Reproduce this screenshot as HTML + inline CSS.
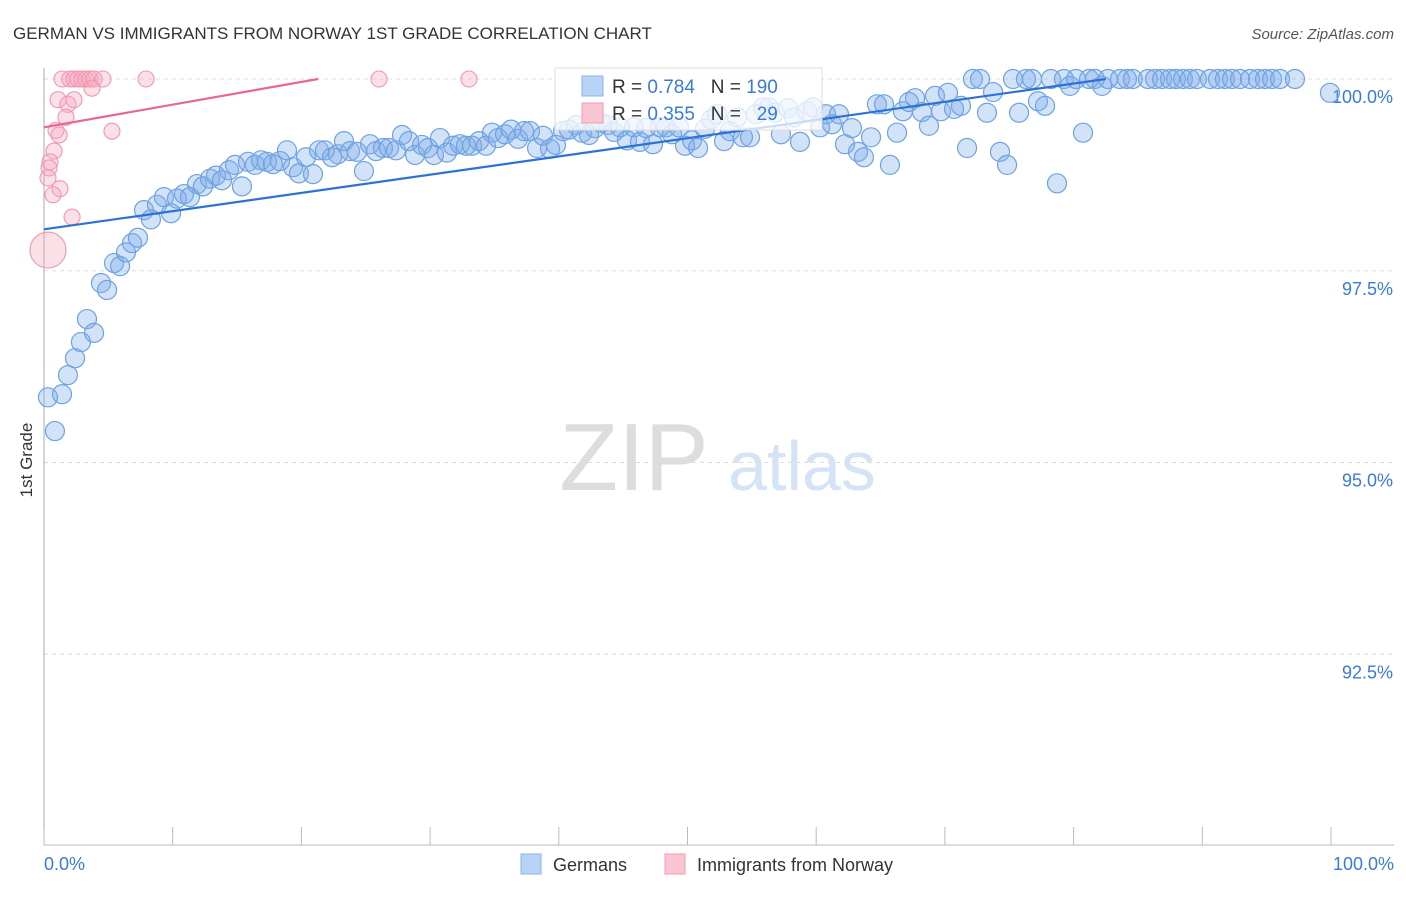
<!DOCTYPE html>
<html><head><meta charset="utf-8"><style>
body{margin:0;background:#fff;font-family:"Liberation Sans",sans-serif}
svg text{font-family:"Liberation Sans",sans-serif}
</style></head><body>
<svg id="chart" width="1406" height="892" xmlns="http://www.w3.org/2000/svg">
<text x="13" y="39" font-size="17" fill="#333">GERMAN VS IMMIGRANTS FROM NORWAY 1ST GRADE CORRELATION CHART</text>
<text x="1394" y="39" font-size="15" fill="#555" font-style="italic" text-anchor="end">Source: ZipAtlas.com</text>
<text x="32" y="460" font-size="17" fill="#333" transform="rotate(-90 32 460)" text-anchor="middle">1st Grade</text>
<g><text x="634" y="490" font-size="96" fill="#ddd" font-family="Liberation Serif" text-anchor="middle">ZIP</text><text x="802" y="490" font-size="70" fill="#d4e3f5" text-anchor="middle">atlas</text></g>
<g id="grid"></g><g id="axes"></g><g id="marks"></g>
<g>
<rect x="555" y="68" width="267" height="62" fill="#fff" fill-opacity="0.75" stroke="#ddd"/>
<rect x="582" y="76" width="21" height="20" fill="#b7d3f5" stroke="#8ab4ea"/>
<rect x="582" y="103" width="21" height="20" fill="#f9c5d3" stroke="#f19ab3"/>
<text x="612" y="93" font-size="19" fill="#333">R = <tspan fill="#3a7bd5">0.784</tspan>&#160;&#160;&#160;N = <tspan fill="#3a7bd5">190</tspan></text>
<text x="612" y="120" font-size="19" fill="#333">R = <tspan fill="#3a7bd5">0.355</tspan>&#160;&#160;&#160;N = &#160;&#160;<tspan fill="#3a7bd5">29</tspan></text>
</g>
<g>
<rect x="521" y="854" width="20" height="20" fill="#b7d3f5" stroke="#8ab4ea"/>
<text x="553" y="871" font-size="18" fill="#333">Germans</text>
<rect x="665" y="854" width="20" height="20" fill="#f9c5d3" stroke="#f19ab3"/>
<text x="697" y="871" font-size="18" fill="#333">Immigrants from Norway</text>
</g>
</svg>
<script>
const yTicks=[100,97.5,95,92.5];
const yTickLabels=["100.0%","97.5%","95.0%","92.5%"];
const xTicks=[0,10,20,30,40,50,60,70,80,90,100];
const xEndLabels=["0.0%","100.0%"];
const germanX=[0.31,0.85,1.40,1.86,2.41,2.87,3.34,3.89,4.43,4.90,5.44,5.91,6.37,6.84,7.30,7.77,8.31,8.78,9.32,9.87,10.33,10.88,11.34,11.89,12.35,12.90,13.36,13.83,14.37,14.84,15.38,15.85,16.39,16.86,17.33,17.79,18.34,18.88,19.35,19.81,20.36,20.90,21.37,21.83,22.38,22.84,23.31,23.78,24.32,24.86,25.33,25.80,26.34,26.81,27.35,27.82,28.36,28.83,29.37,29.84,30.30,30.77,31.31,31.78,32.32,32.79,33.26,33.80,34.34,34.81,35.28,35.82,36.29,36.83,37.30,37.76,38.31,38.77,39.32,39.78,40.33,40.79,41.34,41.80,42.35,42.81,43.28,43.82,44.29,44.76,45.30,45.84,46.31,46.78,47.32,47.86,48.33,48.80,49.34,49.81,50.35,50.82,51.36,51.83,52.29,52.84,53.30,53.85,54.31,54.86,55.32,55.87,56.33,56.80,57.26,57.81,58.28,58.74,59.29,59.75,60.30,60.76,61.23,61.77,62.24,62.78,63.25,63.71,64.26,64.72,65.27,65.73,66.28,66.74,67.21,67.68,68.22,68.76,69.23,69.70,70.24,70.71,71.25,71.72,72.18,72.73,73.27,73.74,74.28,74.83,75.29,75.76,76.30,76.77,77.23,77.78,78.24,78.71,79.25,79.72,80.19,80.73,81.20,81.66,82.21,82.67,83.6,84.15,84.6,85.78,86.33,86.87,87.49,87.96,88.5,89.04,89.59,90.6,91.22,91.76,92.31,92.93,93.71,94.33,94.87,95.42,96.04,97.2,99.92];
const germanY=[95.85,95.41,95.89,96.14,96.36,96.57,96.87,96.69,97.34,97.25,97.60,97.56,97.74,97.86,97.93,98.29,98.17,98.36,98.46,98.25,98.44,98.50,98.46,98.63,98.60,98.70,98.74,98.68,98.81,98.88,98.60,98.92,98.88,98.94,98.92,98.89,98.93,99.07,98.85,98.77,98.98,98.76,99.07,99.07,98.98,99.02,99.19,99.06,99.05,98.80,99.15,99.06,99.10,99.10,99.07,99.27,99.19,99.01,99.14,99.10,99.01,99.23,99.04,99.13,99.15,99.13,99.13,99.19,99.13,99.30,99.23,99.28,99.34,99.22,99.32,99.32,99.10,99.26,99.09,99.14,99.32,99.34,99.40,99.30,99.27,99.36,99.43,99.40,99.31,99.37,99.20,99.37,99.18,99.36,99.15,99.37,99.37,99.28,99.37,99.13,99.20,99.10,99.35,99.47,99.54,99.19,99.32,99.50,99.24,99.24,99.54,99.63,99.63,99.56,99.28,99.62,99.50,99.18,99.58,99.63,99.37,99.54,99.41,99.54,99.15,99.36,99.05,98.98,99.24,99.67,99.67,98.88,99.30,99.58,99.70,99.75,99.57,99.39,99.78,99.58,99.82,99.61,99.65,99.10,100,100,99.56,99.83,99.05,98.88,100,99.56,100,100,99.71,99.65,100,98.64,100,99.91,100,99.30,100,100,99.91,100,100,100,100,100,100,100,100,100,100,100,100,100,100,100,100,100,100,100,100,100,100,100,99.82];
const norwayX=[0.31,1.4,2.0,2.33,2.64,2.95,3.26,3.57,3.89,4.58,7.93,26.03,33.02,1.09,1.86,2.33,3.73,1.71,5.28,0.93,1.17,0.78,0.47,0.39,0.31,1.24,0.7,2.18];
const norwayY=[97.77,100,100,100,100,100,100,100,100,100,100,100,100,99.73,99.67,99.73,99.88,99.5,99.32,99.33,99.27,99.06,98.92,98.84,98.71,98.57,98.49,98.2];
const germanTrend=[0,98.04,82.5,100];
const norwayTrend=[0,99.37,21.3,100];
const X=v=>44+v*12.87, Y=v=>79+(100-v)*76.7;
const NS="http://www.w3.org/2000/svg";
function mk(t,a,p){const e=document.createElementNS(NS,t);for(const k in a)e.setAttribute(k,a[k]);p.appendChild(e);return e;}
const grid=document.getElementById('grid'),axes=document.getElementById('axes'),marks=document.getElementById('marks');
yTicks.forEach((t,i)=>{
 const l=mk('line',{x1:44,x2:1394,y1:Y(t),y2:Y(t),stroke:'#ddd','stroke-dasharray':'4 4'},grid);
 
 
 const tx=mk('text',{x:1393,y:Y(t)+24,'font-size':18,fill:'#3a7bd5','text-anchor':'end'},axes);
 tx.textContent=yTickLabels[i];
 
 
});
const ax=mk('line',{x1:44,x2:44,y1:68,y2:845,stroke:'#aaa'},axes);


const bx=mk('line',{x1:44,x2:1394,y1:845,y2:845,stroke:'#bbb'},axes);


xTicks.forEach(t=>{
 const l=mk('line',{x1:X(t),x2:X(t),y1:827,y2:845,stroke:'#bbb'},axes);
 
 
});
[[0,'start',44],[100,'end',1394]].forEach((d,i)=>{
 const tx=mk('text',{x:d[2],y:870,'font-size':18,fill:'#3a7bd5','text-anchor':d[1]},axes);
 tx.textContent=xEndLabels[i];
 
 
});
germanX.forEach((v,i)=>{
 if(germanY[i]===undefined)return;
 const c=mk('circle',{cx:X(v),cy:Y(germanY[i]),r:9.5,fill:'rgba(125,172,232,0.35)',stroke:'#6fa2e3','stroke-width':1.2},marks);
 
 
});
norwayX.forEach((v,i)=>{
 const c=mk('circle',{cx:X(v),cy:Y(norwayY[i]),r:i==0?18:8,fill:'rgba(246,165,190,0.35)',stroke:'#f097b2','stroke-width':1.1},marks);
 
 
});
const l1=mk('line',{x1:X(germanTrend[0]),y1:Y(germanTrend[1]),x2:X(germanTrend[2]),y2:Y(germanTrend[3]),stroke:'#2b72d6','stroke-width':2.2},marks);


const l2=mk('line',{x1:X(norwayTrend[0]),y1:Y(norwayTrend[1]),x2:X(norwayTrend[2]),y2:Y(norwayTrend[3]),stroke:'#e8678f','stroke-width':2.2},marks);


</script>
</body></html>
